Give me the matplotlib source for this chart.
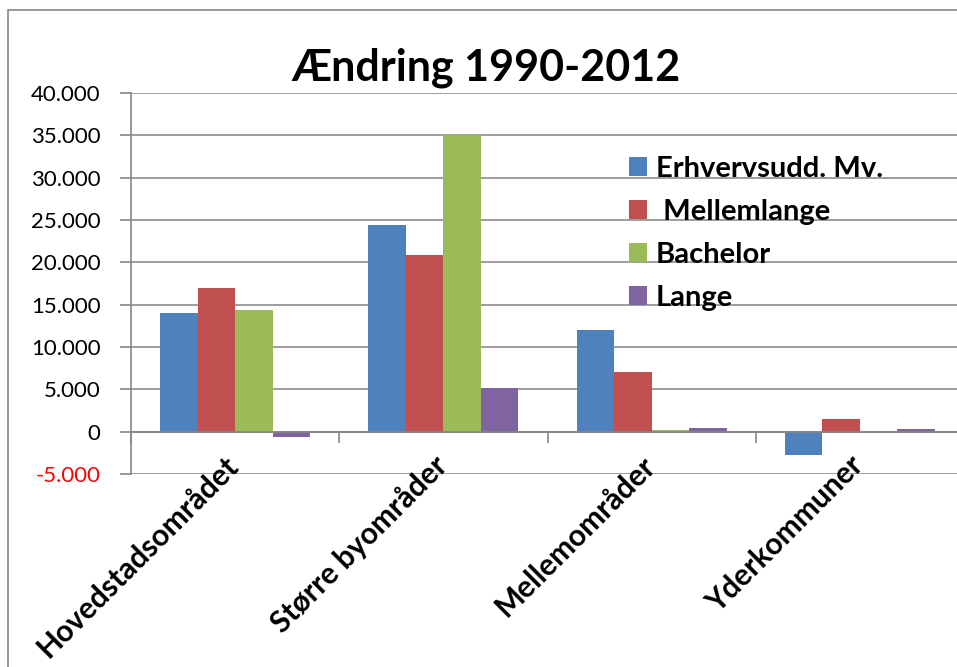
import numpy as np
import matplotlib.pyplot as plt
from matplotlib.patches import Rectangle
from matplotlib.ticker import FuncFormatter

# data
regions = ['Hovedstadsområdet', 'Større byområder', 'Mellemområder', 'Yderkommuner']
series = ['Erhvervsudd. Mv.', ' Mellemlange', 'Bachelor', 'Lange']
erhverv = [14000, 24400, 12000, -2700]
mellemlange = [17000, 20900, 7100, 1500]
bachelor = [14400, 35000, 250, -80]
lange = [-600, 5200, 400, 300]
colors = ['#4F81BD', '#C0504D', '#9BBB59', '#8064A2']

plt.rcParams['font.family'] = ['Lato', 'DejaVu Sans']

fig = plt.figure(figsize=(9.57, 6.67), dpi=100)
# outer chart frame (cropped at right and bottom)
fig.patches.append(Rectangle((8 / 957, -0.1), 1.2, (657 / 667) + 0.1,
                             transform=fig.transFigure, fill=False,
                             edgecolor='#868686', linewidth=1.2))

ax = fig.add_axes([131 / 957, 193 / 667, 833 / 957, 381 / 667])
x = np.arange(len(regions))
w = 0.18
for i, (vals, lab) in enumerate(zip([erhverv, mellemlange, bachelor, lange], series)):
    ax.bar(x + (i - 1.5) * w, vals, width=w, color=colors[i], label=lab, zorder=3)

ax.set_xlim(-0.5, len(regions) - 0.5)
ax.set_ylim(-5000, 40000)
ax.set_yticks(np.arange(-5000, 40001, 5000))
ax.yaxis.set_major_formatter(FuncFormatter(lambda v, p: f'{int(v):,}'.replace(',', '.')))
ax.tick_params(axis='y', labelsize=16, length=8, color='#868686', width=1.2, pad=14)
for t in ax.get_yticklabels():
    if t.get_text().startswith('-') or t.get_text().startswith('\u2212'):
        t.set_color('red')
ax.yaxis.grid(True, color='#8c8c8c', linewidth=1.2, zorder=0)

for s in ['top', 'right']:
    ax.spines[s].set_visible(False)
ax.spines['left'].set_color('#868686')
ax.spines['left'].set_linewidth(1.2)
ax.spines['bottom'].set_position(('data', 0))
ax.spines['bottom'].set_color('#868686')
ax.spines['bottom'].set_linewidth(1.2)
ax.spines['bottom'].set_zorder(4)
ax.set_xticks(np.arange(-0.5, len(regions), 1))
ax.set_xticklabels([])
ax.tick_params(axis='x', length=8, color='#868686', width=1.2)

for i, r in enumerate(regions):
    ax.annotate(r, xy=(i, -5000), xytext=(-11, 23), textcoords='offset pixels',
                rotation=45, ha='right', va='top', rotation_mode='anchor',
                fontsize=21.5, fontweight='bold', annotation_clip=False)

fig.text(486 / 957, 1 - 80 / 667, 'Ændring 1990-2012', ha='center', va='baseline',
         fontsize=31, fontweight='bold')

ax.legend(loc='upper left', bbox_to_anchor=((629 - 131) / 833, (474 - 156) / 381),
          frameon=False, borderpad=0, borderaxespad=0,
          prop={'size': 21, 'weight': 'bold'}, handlelength=0.62, handleheight=0.62,
          handletextpad=0.3, labelspacing=0.58)

fig.savefig('out.png', dpi=100)
